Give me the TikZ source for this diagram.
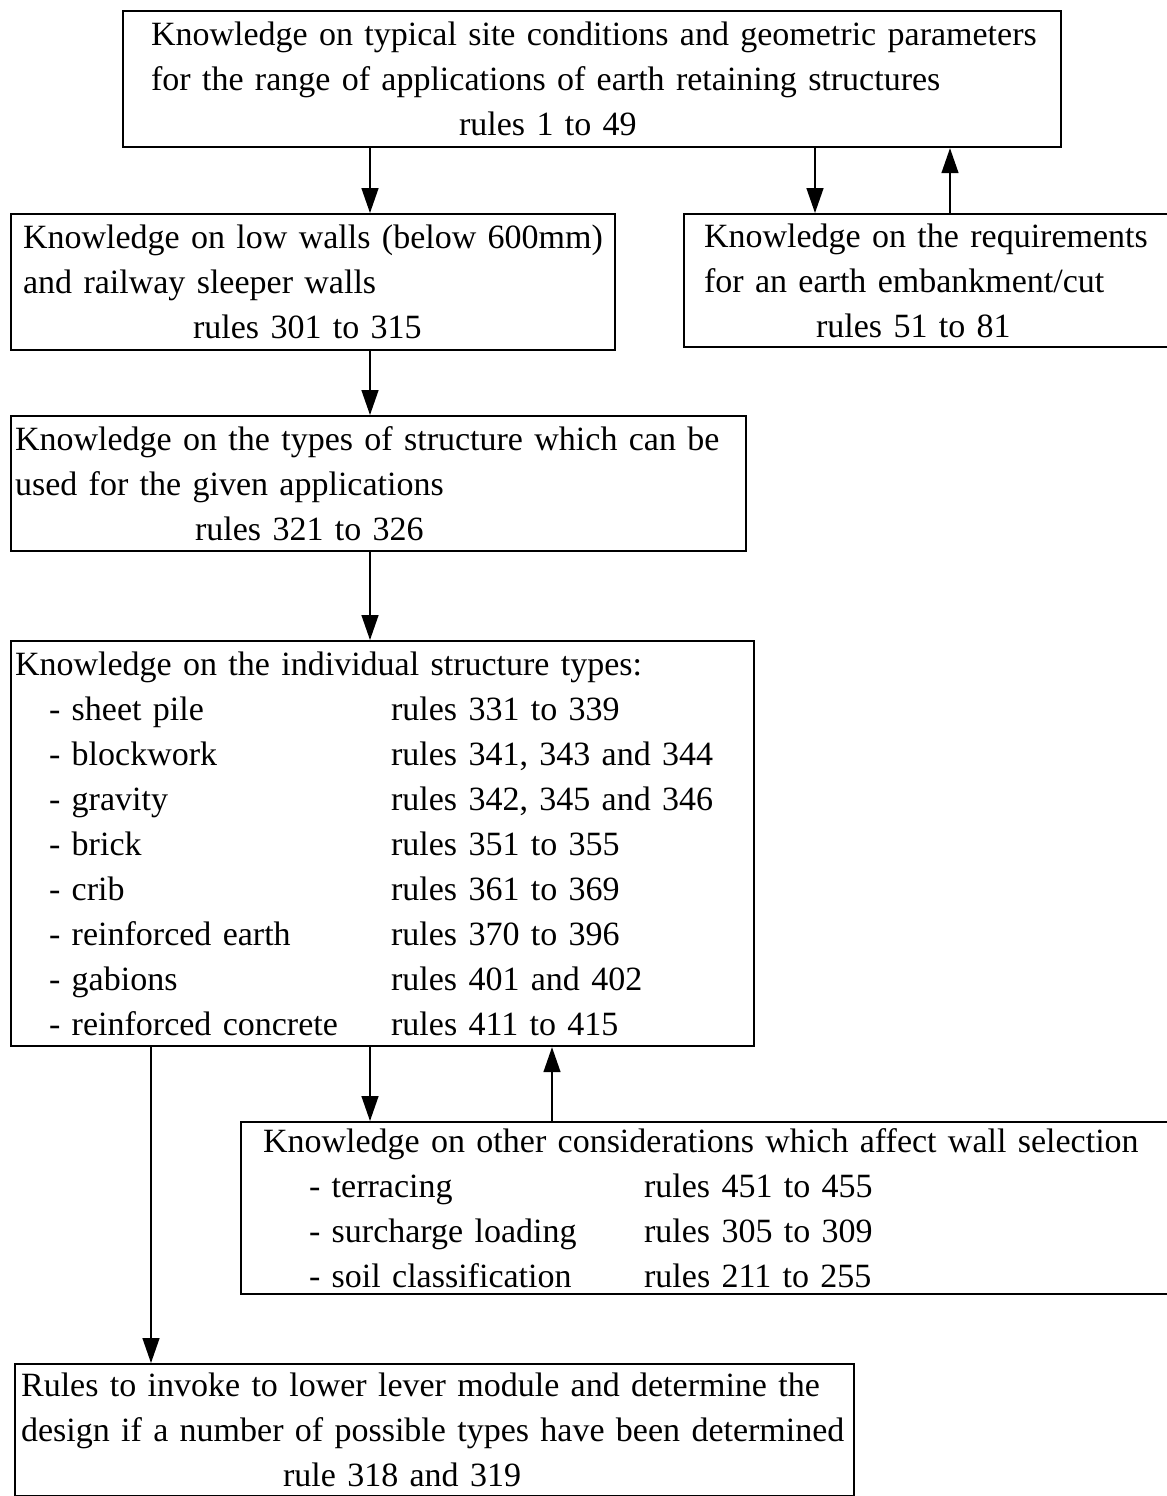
\documentclass[tikz,border=0pt]{standalone}
\usepackage{fontspec}
\setmainfont{Liberation Serif}
\usepackage{tikz}
\usetikzlibrary{positioning,arrows.meta}

\tikzset{
  kbox/.style={draw, line width=1.1pt, anchor=north west, align=left,
               inner ysep=2pt, font=\fontsize{17}{22.5}\selectfont},
  flow/.style={line width=0.7pt, -{Triangle[length=12.5pt,width=8.5pt]}},
}
\newcommand{\walltype}[4]{\hspace*{#1}\makebox[#2][l]{- #3}#4}

\begin{document}
\begin{tikzpicture}[x=0.5pt, y=-0.5pt]
    \useasboundingbox (0,0) rectangle (1167,1496);

    % knowledge boxes
    \node[kbox, text width=455pt, inner xsep=7pt, minimum height=68pt] (site) at (122,10)
      {\hspace*{7pt}Knowledge on typical site conditions and geometric parameters\\
       \hspace*{7pt}for the range of applications of earth retaining structures\\
       \hspace*{161pt}rules 1 to 49};
    \node[kbox, text width=290pt, inner xsep=6pt, minimum height=68pt] (low) at (10,213)
      {Knowledge on low walls (below 600mm)\\
       and railway sleeper walls\\
       \hspace*{85pt}rules 301 to 315};
    \node[kbox, text width=224.5pt, inner xsep=10pt, minimum height=66.5pt] (emb) at (683,213)
      {Knowledge on the requirements\\
       for an earth embankment/cut\\
       \hspace*{56pt}rules 51 to 81};
    \node[kbox, text width=363.5pt, inner xsep=2pt, minimum height=67.5pt] (types) at (10,415)
      {Knowledge on the types of structure which can be\\
       used for the given applications\\
       \hspace*{90pt}rules 321 to 326};
    \node[kbox, text width=367.5pt, inner xsep=2pt, minimum height=202.5pt] (indiv) at (10,640)
      {Knowledge on the individual structure types:\\
       \walltype{17pt}{171pt}{sheet pile}{rules 331 to 339}\\
       \walltype{17pt}{171pt}{blockwork}{rules 341, 343 and 344}\\
       \walltype{17pt}{171pt}{gravity}{rules 342, 345 and 346}\\
       \walltype{17pt}{171pt}{brick}{rules 351 to 355}\\
       \walltype{17pt}{171pt}{crib}{rules 361 to 369}\\
       \walltype{17pt}{171pt}{reinforced earth}{rules 370 to 396}\\
       \walltype{17pt}{171pt}{gabions}{rules 401 and 402}\\
       \walltype{17pt}{171pt}{reinforced concrete}{rules 411 to 415}};
    \node[kbox, text width=443pt, inner xsep=11pt, minimum height=86pt] (other) at (240,1121)
      {Knowledge on other considerations which affect wall selection\\
       \walltype{23pt}{167.5pt}{terracing}{rules 451 to 455}\\
       \walltype{23pt}{167.5pt}{surcharge loading}{rules 305 to 309}\\
       \walltype{23pt}{167.5pt}{soil classification}{rules 211 to 255}};
    \node[kbox, text width=413.5pt, inner xsep=3pt, minimum height=66pt] (rules) at (14,1363)
      {Rules to invoke to lower lever module and determine the\\
       design if a number of possible types have been determined\\
       \hspace*{131pt}rule 318 and 319};

    % x positions of the connectors
    \coordinate (xa) at (370,0);
    \coordinate (xb) at (815,0);
    \coordinate (xc) at (950,0);
    \coordinate (xd) at (552,0);
    \coordinate (xe) at (151,0);

    \draw[flow] (site.south -| xa) -- (low.north -| xa);
    \draw[flow] (site.south -| xb) -- (emb.north -| xb);
    \draw[flow] (emb.north -| xc) -- (site.south -| xc);
    \draw[flow] (low.south -| xa) -- (types.north -| xa);
    \draw[flow] (types.south -| xa) -- (indiv.north -| xa);
    \draw[flow] (indiv.south -| xa) -- (other.north -| xa);
    \draw[flow] (other.north -| xd) -- (indiv.south -| xd);
    \draw[flow] (indiv.south -| xe) -- (rules.north -| xe);
\end{tikzpicture}
\end{document}
